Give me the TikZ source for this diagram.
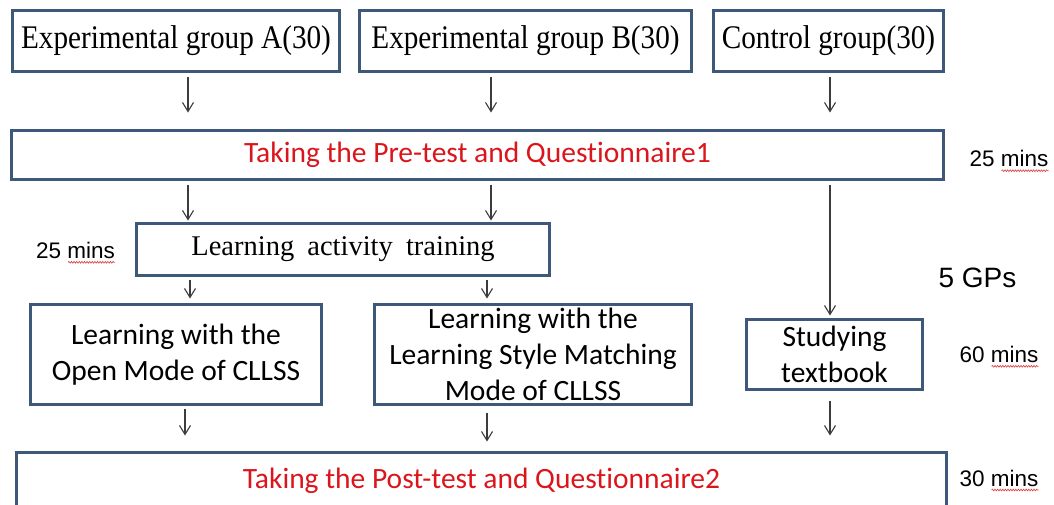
\documentclass[tikz,border=0pt]{standalone}
\usepackage{fontspec}
\setmainfont{Carlito}[Ligatures={TeX,NoCommon}]
\newfontfamily\tnr[FakeStretch=0.885]{Liberation Serif}
\newfontfamily\tnrn{Liberation Serif}
\newfontfamily\arl{Liberation Sans}
\usetikzlibrary{arrows.meta,decorations.pathmorphing}
\definecolor{boxblue}{RGB}{62,88,122}
\definecolor{txtred}{RGB}{218,22,28}
\definecolor{arrgray}{RGB}{60,60,60}
\definecolor{squigred}{RGB}{220,60,60}
\begin{document}
\begin{tikzpicture}[x=1pt,y=-1pt,
  box/.style={draw=boxblue,line width=3pt,inner sep=0pt,fill=white},
  topbox/.style={box,font=\tnr\fontsize{33}{36}\selectfont},
  sbox/.style={box,font=\fontsize{29.5}{36}\selectfont,align=center},
  arr/.style={draw=arrgray,line width=1.1pt,-{Straight Barb[length=9pt,width=11pt]}},
  lbl/.style={font=\arl\fontsize{22.5}{26}\selectfont,anchor=base,inner sep=0pt},
  squig/.style={draw=squigred,line width=0.6pt,decorate,decoration={snake,amplitude=0.9pt,segment length=2.6pt}}
]
\useasboundingbox (0,0) rectangle (1054,504);
\clip (0,0) rectangle (1054,504);
\fill[white] (0,0) rectangle (1054,504);

% top groups
\node[topbox,minimum width=327pt,minimum height=61pt] (A) at (176,41) {Experimental group A(30)};
\node[topbox,minimum width=332pt,minimum height=61pt] (B) at (525.5,41) {Experimental group B(30)};
\node[topbox,minimum width=230pt,minimum height=61pt] (C) at (828.5,41) {Control group(30)};

% pre-test
\node[sbox,text=txtred,minimum width=932pt,minimum height=49pt] (pre) at (477.5,155) {Taking the Pre-test and Questionnaire1};

% activity training
\node[box,font=\tnrn\fontsize{28.5}{32}\selectfont,minimum width=413pt,minimum height=52pt] (act) at (343,249.5) {Learning\hspace{6pt} activity\hspace{6pt} training};

% learning modes
\node[sbox,minimum width=291pt,minimum height=100pt] (open) at (176,354.5) {Learning with the\\Open Mode of CLLSS};
\node[sbox,minimum width=317pt,minimum height=100pt] (lsm) at (533,354.5) {Learning with the\\Learning Style Matching\\Mode of CLLSS};
\node[sbox,minimum width=176pt,minimum height=70pt] (study) at (834.5,354.5) {Studying\\textbook};

% post-test (its bottom edge lies just below the picture)
\node[sbox,text=txtred,minimum width=930pt,minimum height=56pt] (post) at (481.5,480.5) {Taking the Post-test and Questionnaire2};

% arrow columns
\coordinate (xa) at (188,0);
\coordinate (xb) at (491,0);
\coordinate (xc) at (830,0);
\coordinate (xa2) at (190,0);
\coordinate (xb2) at (487,0);
\coordinate (xa3) at (185,0);

\draw[arr,shorten <=3.5pt,shorten >=16.5pt] (A.south -| xa) -- (pre.north -| xa);
\draw[arr,shorten <=3.5pt,shorten >=16.5pt] (B.south -| xb) -- (pre.north -| xb);
\draw[arr,shorten <=3.5pt,shorten >=16.5pt] (C.south -| xc) -- (pre.north -| xc);

\draw[arr,shorten <=3.5pt,shorten >=1.5pt] (pre.south -| xa) -- (act.north -| xa);
\draw[arr,shorten <=3.5pt,shorten >=1.5pt] (pre.south -| xb) -- (act.north -| xb);
\draw[arr,shorten <=3.5pt,shorten >=2.5pt] (pre.south -| xc) -- (study.north -| xc);

\draw[arr,shorten <=2.5pt,shorten >=4.5pt] (act.south -| xa2) -- (open.north -| xa2);
\draw[arr,shorten <=2.5pt,shorten >=4.5pt] (act.south -| xb2) -- (lsm.north -| xb2);

\draw[arr,shorten <=2.5pt,shorten >=15.5pt] (open.south -| xa3) -- (post.north -| xa3);
\draw[arr,shorten <=6.5pt,shorten >=9.5pt] (lsm.south -| xb2) -- (post.north -| xb2);
\draw[arr,shorten <=9.5pt,shorten >=15.5pt] (study.south -| xc) -- (post.north -| xc);

% time labels
\node[lbl] (r25) at (1009,166.7) {25 mins};
\node[lbl] (l25) at (75.5,258.3) {25 mins};
\node[lbl,font=\arl\fontsize{28}{32}\selectfont] (gps) at (977.5,287) {5 GPs};
\node[lbl] (m60) at (999,362.3) {60 mins};
\node[lbl] (m30) at (999,486) {30 mins};

% spell-check squiggles under "mins"
\draw[squig] ([xshift=-47pt,yshift=-4pt]r25.base east) -- ([yshift=-4pt]r25.base east);
\draw[squig] ([xshift=-47pt,yshift=-4pt]l25.base east) -- ([yshift=-4pt]l25.base east);
\draw[squig] ([xshift=-47pt,yshift=-4pt]m60.base east) -- ([yshift=-4pt]m60.base east);
\draw[squig] ([xshift=-47pt,yshift=-4pt]m30.base east) -- ([yshift=-4pt]m30.base east);
\end{tikzpicture}
\end{document}
